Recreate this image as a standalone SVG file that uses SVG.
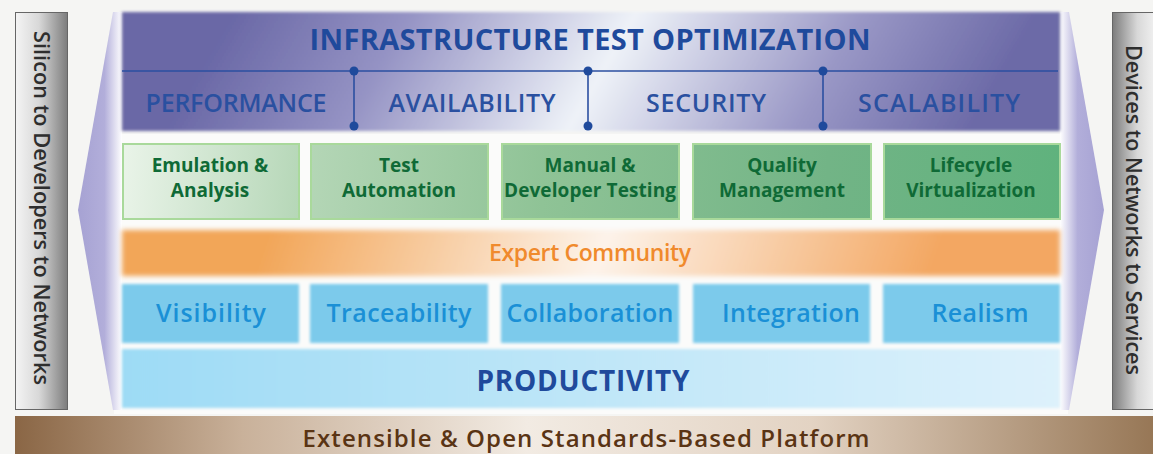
<svg xmlns="http://www.w3.org/2000/svg" width="1153" height="454" viewBox="0 0 1153 454">
<defs>
<style>
text{font-family:"Open Sans","Noto Sans","Liberation Sans",sans-serif;text-anchor:middle}
.side{font-size:21px;fill:#2e2e2e;font-weight:600}
.hdr{font-size:29px;font-weight:700;fill:#1f4a9c}
.pil{font-size:25px;font-weight:600;fill:#2a50a0}
.grn{font-size:19px;font-weight:700;fill:#0f6a36}
.exp{font-size:23px;font-weight:600;fill:#f08a2c}
.blu{font-size:25px;font-weight:600;fill:#1a90d6}
.prod{font-size:28px;font-weight:700;fill:#1f4a9c}
.plat{font-size:24px;font-weight:600;fill:#5a3414}
.div{stroke:#2b4fa0;stroke-width:1.6;fill:none}
.dot{fill:#1f4a9c}
</style>
<linearGradient id="grayL" x1="0" y1="0" x2="1" y2="0"><stop offset="0" stop-color="#f4f4f4"/><stop offset="0.45" stop-color="#d8d8d8"/><stop offset="1" stop-color="#7c7c7c"/></linearGradient>
<linearGradient id="grayR" x1="0" y1="0" x2="1" y2="0"><stop offset="0" stop-color="#7c7c7c"/><stop offset="0.55" stop-color="#d8d8d8"/><stop offset="1" stop-color="#f4f4f4"/></linearGradient>
<linearGradient id="chevL" gradientUnits="userSpaceOnUse" x1="78" y1="0" x2="122" y2="0"><stop offset="0" stop-color="#a6a2d3"/><stop offset="0.6" stop-color="#b2aeda"/><stop offset="1" stop-color="#ffffff"/></linearGradient>
<linearGradient id="chevR" gradientUnits="userSpaceOnUse" x1="1060" y1="0" x2="1104" y2="0"><stop offset="0" stop-color="#ffffff"/><stop offset="0.4" stop-color="#b2aeda"/><stop offset="1" stop-color="#a6a2d3"/></linearGradient>
<linearGradient id="topG" gradientUnits="userSpaceOnUse" x1="300" y1="-100" x2="900" y2="250"><stop offset="0" stop-color="#6a68a6"/><stop offset="0.22" stop-color="#9593c4"/><stop offset="0.5" stop-color="#eef2f8"/><stop offset="0.78" stop-color="#9a98c6"/><stop offset="1" stop-color="#6c6aa7"/></linearGradient>
<linearGradient id="grnG" gradientUnits="userSpaceOnUse" x1="122" y1="143" x2="1060" y2="219"><stop offset="0" stop-color="#eaf4e9"/><stop offset="0.2" stop-color="#b4d6b6"/><stop offset="0.45" stop-color="#8fc396"/><stop offset="0.75" stop-color="#72b486"/><stop offset="1" stop-color="#5fb27d"/></linearGradient>
<linearGradient id="orG" gradientUnits="userSpaceOnUse" x1="300" y1="150" x2="900" y2="360"><stop offset="0" stop-color="#f2a659"/><stop offset="0.5" stop-color="#fdf3ea"/><stop offset="1" stop-color="#f3a762"/></linearGradient>
<linearGradient id="prodG" x1="0" y1="0" x2="1" y2="0"><stop offset="0" stop-color="#9ddbf5"/><stop offset="0.5" stop-color="#bfe6f8"/><stop offset="1" stop-color="#ddf1fb"/></linearGradient>
<linearGradient id="brnG" x1="0" y1="0" x2="1" y2="0"><stop offset="0" stop-color="#8a6645"/><stop offset="0.2" stop-color="#c9b19a"/><stop offset="0.45" stop-color="#f2ebe3"/><stop offset="0.7" stop-color="#e3d3c3"/><stop offset="1" stop-color="#977756"/></linearGradient>
<filter id="soft" x="-5%" y="-10%" width="110%" height="120%"><feGaussianBlur stdDeviation="1.5"/></filter>
<filter id="soft2" x="-5%" y="-20%" width="110%" height="140%"><feGaussianBlur stdDeviation="2.5"/></filter>
</defs>
<rect width="1153" height="454" fill="#f5f5f3"/>
<rect x="114" y="134" width="954" height="280" fill="#fbfbfa"/>

<g id="left-side">
<rect x="15.5" y="12.5" width="52" height="397" fill="url(#grayL)" stroke="#666" stroke-width="1"/>
<text class="side" transform="translate(34 208) rotate(90)" textLength="354" lengthAdjust="spacingAndGlyphs">Silicon to Developers to Networks</text>
<polygon points="113,12 122,12 122,410 113,410 78,210" fill="url(#chevL)"/>
</g>

<g id="right-side">
<rect x="1112.5" y="12.5" width="45" height="397" fill="url(#grayR)" stroke="#666" stroke-width="1"/>
<text class="side" transform="translate(1126 210) rotate(90)" textLength="330" lengthAdjust="spacingAndGlyphs">Devices to Networks to Services</text>
<polygon points="1060,12 1069,12 1104,210 1069,410 1060,410" fill="url(#chevR)"/>
</g>

<g id="infrastructure">
<rect x="122" y="12" width="938" height="119" fill="url(#topG)" filter="url(#soft)"/>
<text class="hdr" x="590" y="50" textLength="561">INFRASTRUCTURE TEST OPTIMIZATION</text>
</g>

<g id="connectors">
<line class="div" x1="122" y1="71" x2="1058" y2="71"/>
<line class="div" x1="354" y1="71" x2="354" y2="126"/>
<line class="div" x1="588" y1="71" x2="588" y2="126"/>
<line class="div" x1="823" y1="71" x2="823" y2="126"/>
<circle class="dot" cx="354" cy="71" r="4.5"/><circle class="dot" cx="354" cy="126" r="4.5"/>
<circle class="dot" cx="588" cy="71" r="4.5"/><circle class="dot" cx="588" cy="126" r="4.5"/>
<circle class="dot" cx="823" cy="71" r="4.5"/><circle class="dot" cx="823" cy="126" r="4.5"/>
</g>

<g id="performance"><text class="pil" x="236" y="112" textLength="181">PERFORMANCE</text></g>
<g id="availability"><text class="pil" x="472" y="112" textLength="167">AVAILABILITY</text></g>
<g id="security"><text class="pil" x="706" y="112" textLength="120">SECURITY</text></g>
<g id="scalability"><text class="pil" x="939" y="112" textLength="162">SCALABILITY</text></g>

<g id="emulation">
<rect x="123" y="144" width="176" height="75" fill="url(#grnG)" stroke="#a9d99b" stroke-width="2"/>
<text class="grn" x="210" y="172">Emulation &amp;</text>
<text class="grn" x="210" y="197">Analysis</text>
</g>
<g id="test-automation">
<rect x="311" y="144" width="177" height="75" fill="url(#grnG)" stroke="#a9d99b" stroke-width="2"/>
<text class="grn" x="399" y="172">Test</text>
<text class="grn" x="399" y="197">Automation</text>
</g>
<g id="manual-testing">
<rect x="502" y="144" width="177" height="75" fill="url(#grnG)" stroke="#a9d99b" stroke-width="2"/>
<text class="grn" x="590" y="172">Manual &amp;</text>
<text class="grn" x="590" y="197" textLength="172">Developer Testing</text>
</g>
<g id="quality">
<rect x="693" y="144" width="178" height="75" fill="url(#grnG)" stroke="#a9d99b" stroke-width="2"/>
<text class="grn" x="782" y="172">Quality</text>
<text class="grn" x="782" y="197">Management</text>
</g>
<g id="lifecycle">
<rect x="884" y="144" width="176" height="75" fill="url(#grnG)" stroke="#a9d99b" stroke-width="2"/>
<text class="grn" x="971" y="172">Lifecycle</text>
<text class="grn" x="971" y="197">Virtualization</text>
</g>

<g id="expert-community">
<rect x="122" y="230" width="938" height="46" fill="url(#orG)" filter="url(#soft2)"/>
<text class="exp" x="590" y="261" textLength="202">Expert Community</text>
</g>

<g id="visibility"><rect x="122" y="284" width="177" height="59" fill="#7ccaeb" filter="url(#soft)"/><text class="blu" x="211" y="322" textLength="110">Visibility</text></g>
<g id="traceability"><rect x="310" y="284" width="178" height="59" fill="#7ccaeb" filter="url(#soft)"/><text class="blu" x="399" y="322" textLength="145">Traceability</text></g>
<g id="collaboration"><rect x="501" y="284" width="178" height="59" fill="#7ccaeb" filter="url(#soft)"/><text class="blu" x="590" y="322" textLength="167">Collaboration</text></g>
<g id="integration"><rect x="693" y="284" width="177" height="59" fill="#7ccaeb" filter="url(#soft)"/><text class="blu" x="791" y="322" textLength="138">Integration</text></g>
<g id="realism"><rect x="883" y="284" width="177" height="59" fill="#7ccaeb" filter="url(#soft)"/><text class="blu" x="980" y="322" textLength="97">Realism</text></g>

<g id="productivity">
<rect x="122" y="349" width="938" height="59" fill="url(#prodG)" filter="url(#soft)"/>
<text class="prod" x="583" y="391" textLength="213">PRODUCTIVITY</text>
</g>

<g id="platform">
<rect x="15" y="416" width="1138" height="40" fill="url(#brnG)"/>
<text class="plat" x="586" y="447" textLength="567">Extensible &amp; Open Standards-Based Platform</text>
</g>
</svg>
